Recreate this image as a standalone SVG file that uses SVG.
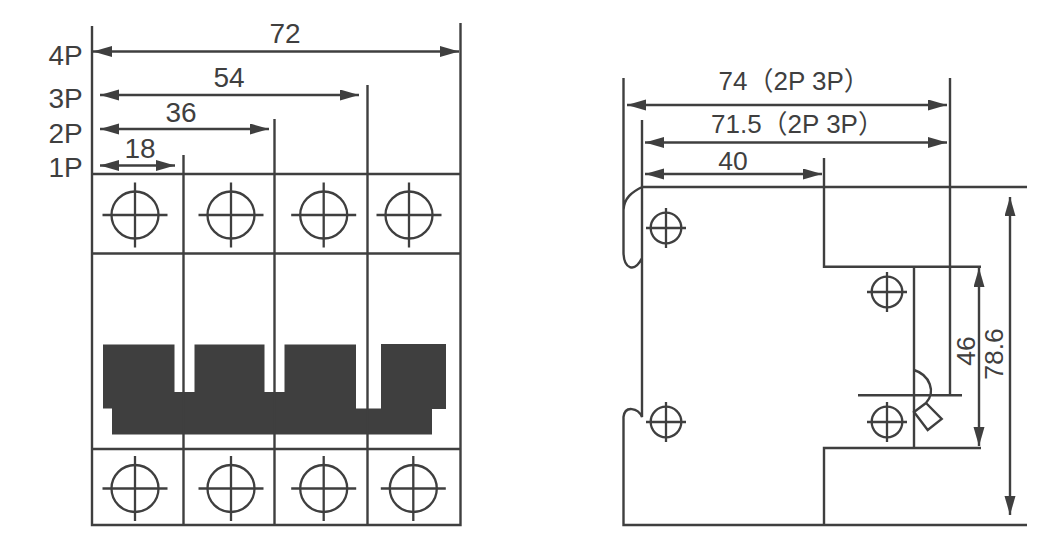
<svg xmlns="http://www.w3.org/2000/svg" width="1053" height="553" viewBox="0 0 1053 553">
<style>
.l{fill:none;stroke:#3f3f3f;stroke-width:2.4}
.c{fill:none;stroke:#3f3f3f;stroke-width:2.3}
.d{fill:#3f3f3f;stroke:none}
.a{fill:#3f3f3f;stroke:none}
text{font-family:"Liberation Sans",Arial,"Noto Sans CJK SC",sans-serif;fill:#3f3f3f}
.t{font-size:28px;text-anchor:middle}
.s{font-size:26px}
.m{font-size:26.500px;text-anchor:middle}
</style>
<defs>
<g id="big"><circle r="23.5" class="c"/><path d="M-32.5 0H32.5M0-32.5V32.5" class="c"/></g>
<g id="small"><circle r="15.3" class="c"/><path d="M-20 0H20M0-20V20" class="c"/></g>
<marker id="m" markerWidth="20" markerHeight="12" refX="19" refY="5.5" orient="auto-start-reverse" markerUnits="userSpaceOnUse"><path d="M19 5.5L0 0V11Z" class="a"/></marker>
</defs>
<g id="connectors">
<path class="l" marker-start="url(#m)" marker-end="url(#m)" d="M93 51.500H459"/>
<path class="l" marker-start="url(#m)" marker-end="url(#m)" d="M100 95H359"/>
<path class="l" marker-start="url(#m)" marker-end="url(#m)" d="M100 129H269"/>
<path class="l" marker-start="url(#m)" marker-end="url(#m)" d="M100 165.500H175"/>
<path class="l" marker-start="url(#m)" marker-end="url(#m)" d="M627 105H947"/>
<path class="l" marker-start="url(#m)" marker-end="url(#m)" d="M645 142.500H947"/>
<path class="l" marker-start="url(#m)" marker-end="url(#m)" d="M645 174H822"/>
<path class="l" marker-start="url(#m)" marker-end="url(#m)" d="M979 268V446"/>
<path class="l" marker-start="url(#m)" marker-end="url(#m)" d="M1010 197V515"/>
</g>
<g id="front-view">
<path class="d" d="M103 344.500H174.500V392H194.500V344.500H264.500V392H284.500V344.500H356V408.500H381V344H446V409H432V434.500H112V408.500H103Z"/>
<path class="l" d="M92 26V525H460.500V23M92 174H460.500M92 253.500H460.500M92 449H460.500M183.500 155V525M274.500 119V525M367.500 85V525"/>
<use href="#big" x="135" y="215"/><use href="#big" x="231" y="215"/><use href="#big" x="323.700" y="215"/><use href="#big" x="409" y="215"/>
<use href="#big" x="135" y="488.500"/><use href="#big" x="231" y="488.500"/><use href="#big" x="323.700" y="488.500"/><use href="#big" x="413.300" y="488.500"/>
</g>
<g id="side-view">
<path class="l" d="M623.500 78V210C624 198 632 192 642 187M623.500 210V253C624 268 634 274 642 258M642 120V417C638 408 625 405 623.500 417V525H1027M642 187H1027M824 158V266.700H981M824 525V448H981M914 266.700V448M858 395.300H962M950 78V395.300"/>
<path class="l" d="M914 370C930 375 936 392 926 403L914 412L927.700 430L941.700 419L926 403"/>
<use href="#small" x="666" y="228"/><use href="#small" x="666" y="422"/><use href="#small" x="887" y="292"/><use href="#small" x="887" y="422"/>
</g>
<g id="labels">
<text class="t" x="285" y="43">72</text>
<text class="t" x="229" y="87">54</text>
<text class="t" x="181" y="122">36</text>
<text class="t" x="140" y="158">18</text>
<text class="t" x="65.500" y="65">4P</text>
<text class="t" x="65.500" y="108">3P</text>
<text class="t" x="65.500" y="143">2P</text>
<text class="t" x="65.500" y="177">1P</text>
<text class="s" x="718.500" y="90">74（2P 3P）</text>
<text class="s" x="711" y="133">71.5（2P 3P）</text>
<text class="m" x="733" y="170">40</text>
<text class="m" transform="translate(975 351) rotate(-90)">46</text>
<text class="m" transform="translate(1003 354) rotate(-90)">78.6</text>
</g>
</svg>
